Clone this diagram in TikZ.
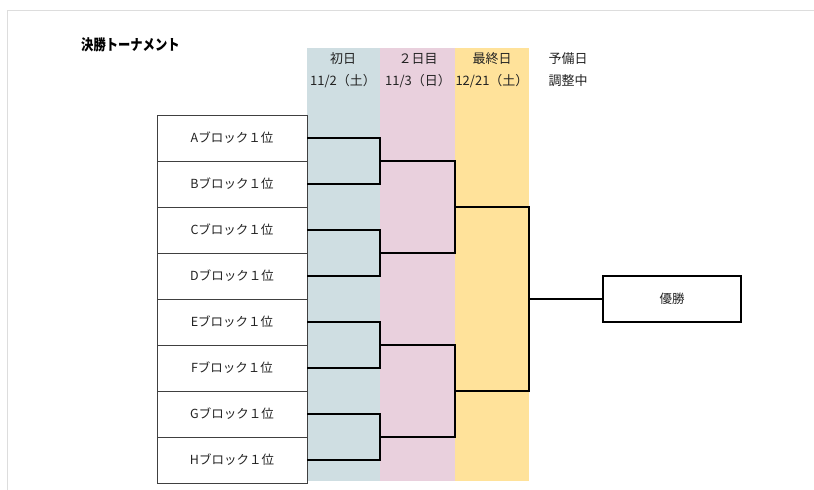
\documentclass[tikz,border=0pt]{standalone}
\usepackage{fontspec}
\usepackage{graphicx}
\setmainfont{Noto Sans CJK JP}
\usetikzlibrary{positioning}
\definecolor{dayone}{HTML}{CFDEE2}
\definecolor{daytwo}{HTML}{E9D0DD}
\definecolor{dayfinal}{HTML}{FFE29A}
\definecolor{boxline}{HTML}{404040}
\definecolor{inktext}{HTML}{222222}
\definecolor{frame}{HTML}{DDDDDD}

\begin{document}
\begin{tikzpicture}[x=1pt, y=-1pt, node distance=0pt, auto]
    % Define block styles
    \tikzstyle{team} = [rectangle, draw=boxline, line width=0.8pt, fill=white, minimum width=150pt, minimum height=46pt, outer sep=0pt, inner sep=0pt, text=inktext, font=\fontsize{12.5}{14}\selectfont]
    \tikzstyle{head} = [text=inktext, font=\fontsize{13}{15}\selectfont, inner sep=0pt]
    \tikzstyle{line} = [draw, black, line width=1.8pt]

    \useasboundingbox (0,0) rectangle (814,490);
    \draw[frame, line width=1pt] (814,10) -- (7,10) -- (7,490);

    % Day columns
    \fill[dayone] (307,48) rectangle (380,481);
    \fill[daytwo] (380,48) rectangle (455,481);
    \fill[dayfinal] (455,48) rectangle (529,481);

    % Title and headers
    \node[anchor=west, inner sep=0pt, text=black, font=\fontsize{15}{17}\selectfont\bfseries] (title) at (81,45) {\scalebox{0.82}[1]{決勝トーナメント}};
    \node[head] (d1) at (343,59) {初日};
    \node[head] (d1date) at (343,81) {11/2（土）};
    \node[head] (d2) at (418,59) {２日目};
    \node[head] (d2date) at (418,81) {11/3（日）};
    \node[head] (d3) at (492,59) {最終日};
    \node[head] (d3date) at (492,81) {12/21（土）};
    \node[head] (d4) at (568,59) {予備日};
    \node[head] (d4date) at (568,81) {調整中};

    % Nodes
    \node [team] (A) at (232,138) {Aブロック１位};
    \node [team, below=of A] (B) {Bブロック１位};
    \node [team, below=of B] (C) {Cブロック１位};
    \node [team, below=of C] (D) {Dブロック１位};
    \node [team, below=of D] (E) {Eブロック１位};
    \node [team, below=of E] (F) {Fブロック１位};
    \node [team, below=of F] (G) {Gブロック１位};
    \node [team, below=of G] (H) {Hブロック１位};
    \node [team, draw=black, line width=1.6pt, minimum width=138pt] (Winner) at (672,299) {優勝};

    % Junctions
    \coordinate (AB) at (380,161);
    \coordinate (CD) at (380,253);
    \coordinate (EF) at (380,345);
    \coordinate (GH) at (380,437);
    \coordinate (ABCD) at (455,207);
    \coordinate (EFGH) at (455,391);
    \coordinate (Final) at (529,299);

    % Arrows
    \path [line] (A.east) -| (AB) |- (B.east);
    \path [line] (C.east) -| (CD) |- (D.east);
    \path [line] (E.east) -| (EF) |- (F.east);
    \path [line] (G.east) -| (GH) |- (H.east);
    \path [line] (AB) -| (ABCD) |- (CD);
    \path [line] (EF) -| (EFGH) |- (GH);
    \path [line] (ABCD) -| (Final) |- (EFGH);
    \path [line] (Final) -- (Winner.west);

  \end{tikzpicture}
\end{document}
